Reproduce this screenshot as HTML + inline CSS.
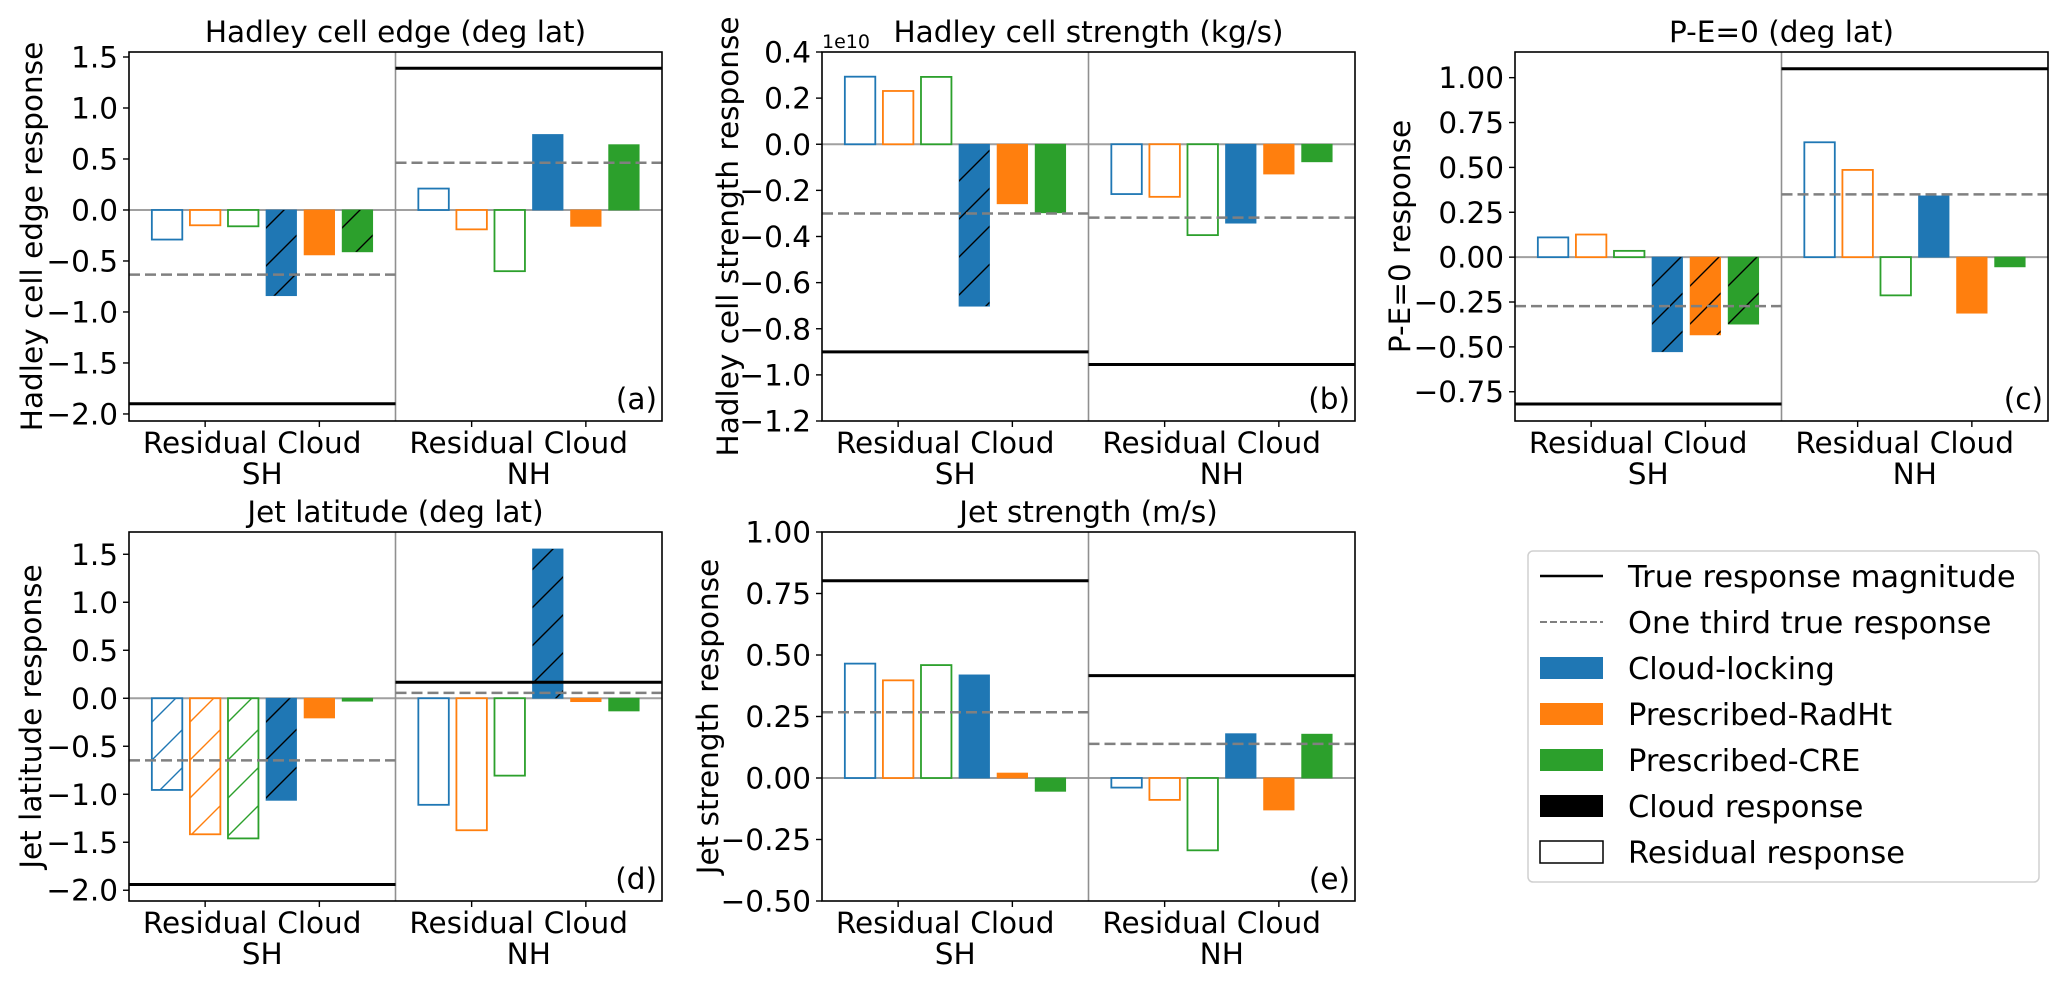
<!DOCTYPE html>
<html><head><meta charset="utf-8">
<style>
html,body{margin:0;padding:0;background:#fff;}
svg{display:block;font-family:"DejaVu Sans","Liberation Sans",sans-serif;}
</style></head>
<body>
<svg id="fig" xmlns="http://www.w3.org/2000/svg" width="2067" height="983" viewBox="0 0 2067 983">
<defs>
  <pattern id="h-k" patternUnits="userSpaceOnUse" width="38" height="38"><path d="M0,38 L38,0 M-5,5 L5,-5 M33,43 L43,33" stroke="#000" stroke-width="1.4"/></pattern>
  <pattern id="h-b" patternUnits="userSpaceOnUse" width="38" height="38"><path d="M0,38 L38,0 M-5,5 L5,-5 M33,43 L43,33" stroke="#1f77b4" stroke-width="1.4"/></pattern>
  <pattern id="h-o" patternUnits="userSpaceOnUse" width="38" height="38"><path d="M0,38 L38,0 M-5,5 L5,-5 M33,43 L43,33" stroke="#ff7f0e" stroke-width="1.4"/></pattern>
  <pattern id="h-g" patternUnits="userSpaceOnUse" width="38" height="38"><path d="M0,38 L38,0 M-5,5 L5,-5 M33,43 L43,33" stroke="#2ca02c" stroke-width="1.4"/></pattern>
</defs>
<g id="legend">
  <rect x="1528" y="551" width="511" height="331" rx="5" fill="#fff" stroke="#d0d0d0" stroke-width="1.5"/>
  <g>
    <line x1="1540" y1="576" x2="1603" y2="576" stroke="#000" stroke-width="2.5"/>
    <text x="1628" y="587" font-size="30.5">True response magnitude</text></g>
  <g>
    <line x1="1540" y1="622" x2="1603" y2="622" stroke="#808080" stroke-width="2" stroke-dasharray="7,3"/>
    <text x="1628" y="633" font-size="30.5">One third true response</text></g>
  <g>
    <rect x="1540" y="657" width="63" height="22" fill="#1f77b4"/>
    <text x="1628" y="679" font-size="30.5">Cloud-locking</text></g>
  <g>
    <rect x="1540" y="703" width="63" height="22" fill="#ff7f0e"/>
    <text x="1628" y="725" font-size="30.5">Prescribed-RadHt</text></g>
  <g>
    <rect x="1540" y="749" width="63" height="22" fill="#2ca02c"/>
    <text x="1628" y="771" font-size="30.5">Prescribed-CRE</text></g>
  <g>
    <rect x="1540" y="795" width="63" height="22" fill="#000"/>
    <text x="1628" y="817" font-size="30.5">Cloud response</text></g>
  <g>
    <rect x="1540" y="841" width="63" height="22" fill="#fff" stroke="#000" stroke-width="1.5"/>
    <text x="1628" y="863" font-size="30.5">Residual response</text></g>
</g>
</svg>
<script>
// ---- data ----
const experiments = ['Cloud-locking','Prescribed-RadHt','Prescribed-CRE'];
const hemispheres = ['SH','NH'];
const xTickLabels = ['Residual','Cloud'];

const aResidSH = [-0.29, -0.15, -0.16];
const aCloudSH = [-0.84, -0.44, -0.41];
const aResidNH = [0.21, -0.19, -0.60];
const aCloudNH = [0.74, -0.16, 0.64];
const aTrue = [-1.90, 1.39];
const aTicks = [-2.0, -1.5, -1.0, -0.5, 0.0, 0.5, 1.0, 1.5];

const bResidSH = [0.293, 0.231, 0.292];
const bCloudSH = [-0.702, -0.258, -0.297];
const bResidNH = [-0.216, -0.228, -0.394];
const bCloudNH = [-0.342, -0.129, -0.076];
const bTrue = [-0.90, -0.955];
const bTicks = [-1.2, -1.0, -0.8, -0.6, -0.4, -0.2, 0.0, 0.2, 0.4];

const cResidSH = [0.11, 0.126, 0.035];
const cCloudSH = [-0.527, -0.433, -0.373];
const cResidNH = [0.64, 0.486, -0.213];
const cCloudNH = [0.341, -0.312, -0.054];
const cTrue = [-0.818, 1.05];
const cTicks = [-0.75, -0.5, -0.25, 0.0, 0.25, 0.5, 0.75, 1.0];

const dResidSH = [-0.955, -1.417, -1.46];
const dCloudSH = [-1.063, -0.205, -0.03];
const dResidNH = [-1.11, -1.375, -0.806];
const dCloudNH = [1.555, -0.035, -0.132];
const dTrue = [-1.94, 0.167];
const dTicks = [-2.0, -1.5, -1.0, -0.5, 0.0, 0.5, 1.0, 1.5];

const eResidSH = [0.465, 0.397, 0.459];
const eCloudSH = [0.419, 0.02, -0.054];
const eResidNH = [-0.039, -0.089, -0.294];
const eCloudNH = [0.18, -0.13, 0.178];
const eTrue = [0.802, 0.416];
const eTicks = [-0.5, -0.25, 0.0, 0.25, 0.5, 0.75, 1.0];

// ---- drawing ----
const NS = 'http://www.w3.org/2000/svg';
const svg = document.getElementById('fig');
const colors = ['#1f77b4','#ff7f0e','#2ca02c'];
const hatchIds = ['h-b','h-o','h-g'];

function mk(tag, attrs, parent){
  const el = document.createElementNS(NS, tag);
  for (const k in attrs) el.setAttribute(k, attrs[k]);
  (parent||svg).appendChild(el);
  return el;
}

function drawPanel(p){
  const g = mk('g', {});
  
  
  const W = 533, H = 369, L = p.left, T = p.top, B = T + H;
  const sx = v => L + (v + 1) * W / 14;
  const sy = v => T + (p.ymax - v) / (p.ymax - p.ymin) * H;
  const bw = 0.8 * W / 14;

  // zero line & divider
  const z = mk('line', {x1:L, x2:L+W, y1:sy(0), y2:sy(0), stroke:'#a0a0a0', 'stroke-width':2}, g);
  
  
  const dv = mk('line', {x1:sx(6), x2:sx(6), y1:T, y2:B, stroke:'#909090', 'stroke-width':1.6}, g);
  
  

  const groups = [
    {vals:p.residSH, off:0, filled:false, hatch:p.hResidSH, name:'SH-residual'},
    {vals:p.cloudSH, off:3, filled:true, hatch:p.hCloudSH, name:'SH-cloud'},
    {vals:p.residNH, off:7, filled:false, hatch:[0,0,0], name:'NH-residual'},
    {vals:p.cloudNH, off:10, filled:true, hatch:p.hCloudNH, name:'NH-cloud'}
  ];
  groups.forEach(gr => {
    gr.vals.forEach((v, i) => {
      const x = sx(gr.off + i) - bw/2;
      const y0 = sy(Math.max(v, 0)), y1 = sy(Math.min(v, 0));
      const r = mk('rect', {x:x, y:y0, width:bw, height:Math.max(y1-y0, 0.5),
        fill: gr.filled ? colors[i] : '#fff',
        stroke: colors[i], 'stroke-width': gr.filled ? 0.8 : 1.8}, g);
      
      
      if (gr.hatch[i]) {
        const h = mk('rect', {x:x, y:y0, width:bw, height:Math.max(y1-y0, 0.5),
          fill: 'url(#' + (gr.filled ? 'h-k' : hatchIds[i]) + ')'}, g);
        
        
      }
    });
  });

  // true / one-third lines
  [[-1, 6], [6, 13]].forEach((rng, hi) => {
    const t = p.trueVals[hi];
    const tl = mk('line', {x1:sx(rng[0]), x2:sx(rng[1]), y1:sy(t), y2:sy(t), stroke:'#000', 'stroke-width':3}, g);
    
    
    const dl = mk('line', {x1:sx(rng[0]), x2:sx(rng[1]), y1:sy(t/3), y2:sy(t/3), stroke:'#808080', 'stroke-width':2.5, 'stroke-dasharray':'11,5'}, g);
    
    
  });

  // frame
  const fr = mk('rect', {x:L, y:T, width:W, height:H, fill:'none', stroke:'#000', 'stroke-width':1.6}, g);
  
  

  // y ticks
  p.ticks.forEach(v => {
    const y = sy(v);
    const tk = mk('line', {x1:L-6, x2:L, y1:y, y2:y, stroke:'#000', 'stroke-width':1.4}, g);
    
    
    const tx = mk('text', {x:L-11, y:y+10.5, 'font-size':29.5, 'text-anchor':'end'}, g);
    tx.textContent = (v < 0 ? '\u2212' : '') + Math.abs(v).toFixed(p.dec);
    
    
  });

  // x ticks
  [1, 4, 8, 11].forEach((xi, k) => {
    const x = sx(xi);
    const tk = mk('line', {x1:x, x2:x, y1:B, y2:B+6, stroke:'#000', 'stroke-width':1.4}, g);
    
    
    const tx = mk('text', {x:x, y:B+32, 'font-size':29.5, 'text-anchor':'middle'}, g);
    tx.textContent = xTickLabels[k % 2];
    
    
  });
  hemispheres.forEach((hname, hi) => {
    const tx = mk('text', {x:sx(2.5 + 7*hi), y:B+63, 'font-size':29.5, 'text-anchor':'middle'}, g);
    tx.textContent = hname;
    
    
  });

  // title, ylabel, panel letter
  const ti = mk('text', {x:L+W/2, y:T-10, 'font-size':29.5, 'text-anchor':'middle'}, g);
  ti.textContent = p.title;
  
  
  const yl = mk('text', {x:0, y:0, 'font-size':29.5, 'text-anchor':'middle',
    transform:'translate(' + p.ylx + ',' + (T+H/2) + ') rotate(-90)'}, g);
  yl.textContent = p.ylabel;
  
  
  const pl = mk('text', {x:L+W-5, y:B-12, 'font-size':29.5, 'text-anchor':'end'}, g);
  pl.textContent = '(' + p.id + ')';
  
  
  if (p.offset) {
    const of = mk('text', {x:L, y:T-4, 'font-size':19}, g);
    of.textContent = p.offset;
    
    
  }
}

drawPanel({id:'a', left:129, top:52, ymin:-2.069, ymax:1.549, ticks:aTicks, dec:1,
  residSH:aResidSH, cloudSH:aCloudSH, residNH:aResidNH, cloudNH:aCloudNH, trueVals:aTrue,
  hResidSH:[0,0,0], hCloudSH:[1,0,1], hCloudNH:[0,0,0],
  title:'Hadley cell edge (deg lat)', ylabel:'Hadley cell edge response', ylx:42});
drawPanel({id:'b', left:822, top:52, ymin:-1.2, ymax:0.4, ticks:bTicks, dec:1,
  residSH:bResidSH, cloudSH:bCloudSH, residNH:bResidNH, cloudNH:bCloudNH, trueVals:bTrue,
  hResidSH:[0,0,0], hCloudSH:[1,0,0], hCloudNH:[0,0,0],
  title:'Hadley cell strength (kg/s)', ylabel:'Hadley cell strength response', ylx:738, offset:'1e10'});
drawPanel({id:'c', left:1515, top:52, ymin:-0.913, ymax:1.143, ticks:cTicks, dec:2,
  residSH:cResidSH, cloudSH:cCloudSH, residNH:cResidNH, cloudNH:cCloudNH, trueVals:cTrue,
  hResidSH:[0,0,0], hCloudSH:[1,1,1], hCloudNH:[0,0,0],
  title:'P-E=0 (deg lat)', ylabel:'P-E=0 response', ylx:1410});
drawPanel({id:'d', left:129, top:532, ymin:-2.112, ymax:1.732, ticks:dTicks, dec:1,
  residSH:dResidSH, cloudSH:dCloudSH, residNH:dResidNH, cloudNH:dCloudNH, trueVals:dTrue,
  hResidSH:[1,1,1], hCloudSH:[1,0,0], hCloudNH:[1,0,0],
  title:'Jet latitude (deg lat)', ylabel:'Jet latitude response', ylx:41});
drawPanel({id:'e', left:822, top:532, ymin:-0.5, ymax:1.0, ticks:eTicks, dec:2,
  residSH:eResidSH, cloudSH:eCloudSH, residNH:eResidNH, cloudNH:eCloudNH, trueVals:eTrue,
  hResidSH:[0,0,0], hCloudSH:[0,0,0], hCloudNH:[0,0,0],
  title:'Jet strength (m/s)', ylabel:'Jet strength response', ylx:718});
</script>
</body></html>
